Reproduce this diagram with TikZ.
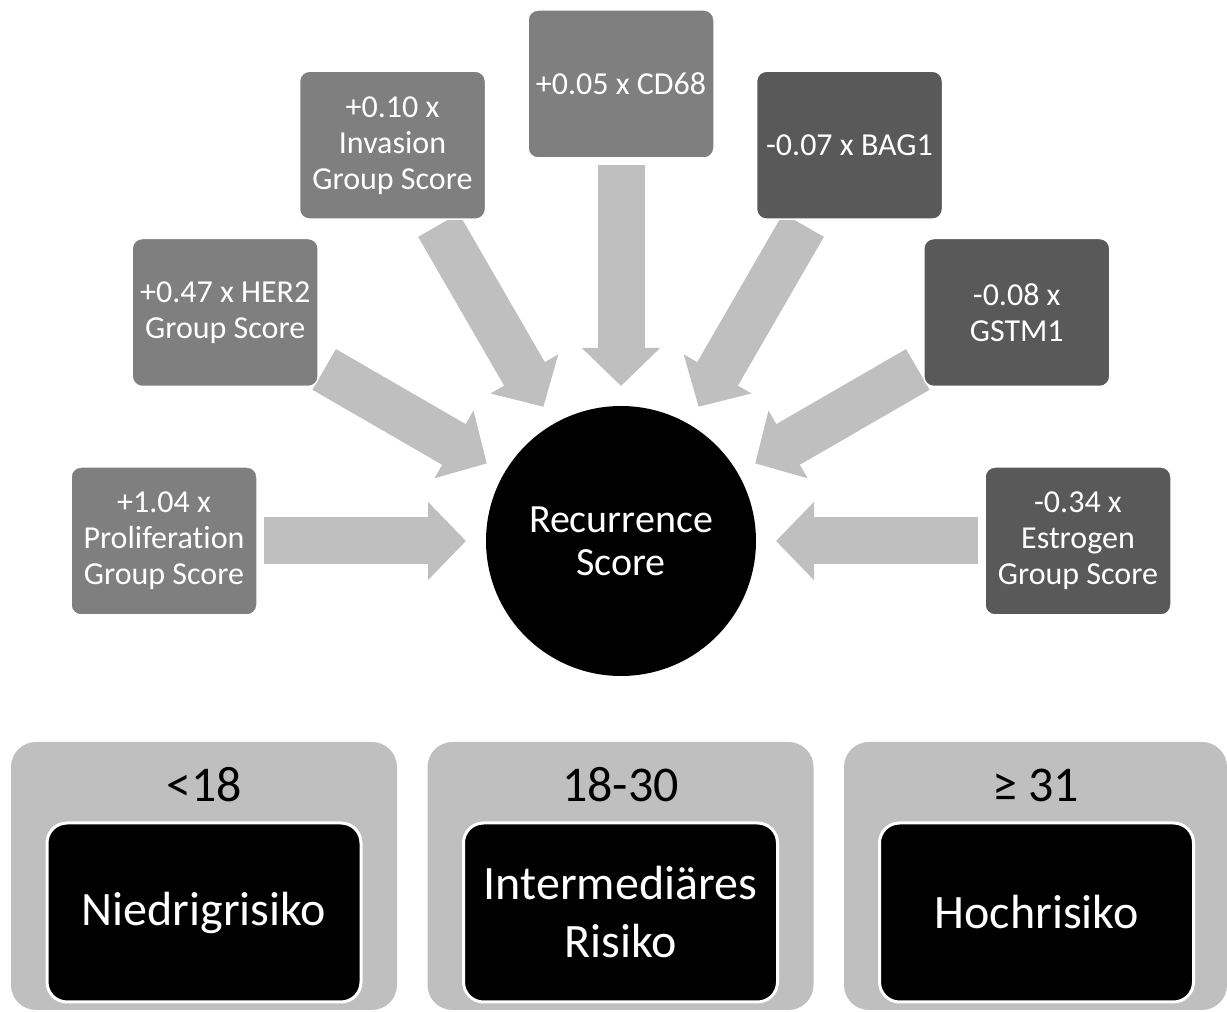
\documentclass[tikz,border=0pt]{standalone}
\usepackage{fontspec}
\setmainfont{Carlito}[Ligatures=NoCommon]
\usetikzlibrary{arrows.meta, calc, backgrounds}

\definecolor{posgray}{HTML}{7F7F7F}
\definecolor{neggray}{HTML}{595959}
\definecolor{lightgray}{HTML}{BFBFBF}

\begin{document}
\begin{tikzpicture}[x=1pt, y=1pt]
	\tikzstyle{factor} = [draw=white, line width=1.5pt, rounded corners=10pt, minimum width=186pt, minimum height=148pt, inner sep=2pt, align=center, text=white, font=\fontsize{32}{36}\selectfont]
	\tikzstyle{posbox} = [factor, fill=posgray]
	\tikzstyle{negbox} = [factor, fill=neggray]
	\tikzstyle{bigarrow} = [lightgray, line width=47pt, -{Triangle[length=38pt, width=76pt]}, shorten <=6pt, shorten >=155pt]
	\tikzstyle{riskgroup} = [fill=lightgray, rounded corners=25pt, minimum width=386pt, minimum height=268pt]
	\tikzstyle{riskbox} = [fill=black, draw=white, line width=3pt, rounded corners=20pt, minimum width=314pt, minimum height=179pt, align=center, text=white, font=\fontsize{48}{58}\selectfont]
	\tikzstyle{rangelabel} = [font=\fontsize{50}{58}\selectfont]

	\useasboundingbox (0,0) rectangle (1227,1012);

	% recurrence score with its weighted inputs
	\node[circle, fill=black, minimum size=270pt, inner sep=0pt, align=center, text=white, font=\fontsize{40}{43}\selectfont] (rs) at (621,471) {Recurrence\\Score};

	\node[posbox] (prolif) at ($(rs)+(180:457pt)$) {+1.04 x\\Proliferation\\Group Score};
	\node[posbox] (her2) at ($(rs)+(150:457pt)$) {+0.47 x HER2\\Group Score};
	\node[posbox] (inv) at ($(rs)+(120:457pt)$) {+0.10 x\\Invasion\\Group Score};
	\node[posbox] (cd68) at ($(rs)+(90:457pt)$) {+0.05 x CD68};
	\node[negbox] (bag1) at ($(rs)+(60:457pt)$) {-0.07 x BAG1};
	\node[negbox] (gstm1) at ($(rs)+(30:457pt)$) {-0.08 x\\GSTM1};
	\node[negbox] (estr) at ($(rs)+(0:457pt)$) {-0.34 x\\Estrogen\\Group Score};

	\begin{scope}[on background layer]
		\foreach \n in {prolif, her2, inv, cd68, bag1, gstm1, estr}
			\draw[bigarrow] (\n) -- (rs.center);
	\end{scope}

	% risk groups
	\node[riskgroup] (g1) at (204,136) {};
	\node[riskgroup] (g2) at (620.5,136) {};
	\node[riskgroup, minimum width=383pt] (g3) at (1035.5,136) {};

	\node[rangelabel] (r1) at (204,227) {<18};
	\node[rangelabel] (r2) at (620.5,227) {18-30};
	\node[rangelabel] (r3) at (1035.5,227) {≥ 31};

	\node[riskbox] (k1) at (204,99.5) {Niedrigrisiko};
	\node[riskbox] (k2) at (620.5,99.5) {Intermediäres\\Risiko};
	\node[riskbox] (k3) at (1036.5,99.5) {Hochrisiko};
\end{tikzpicture}
\end{document}
